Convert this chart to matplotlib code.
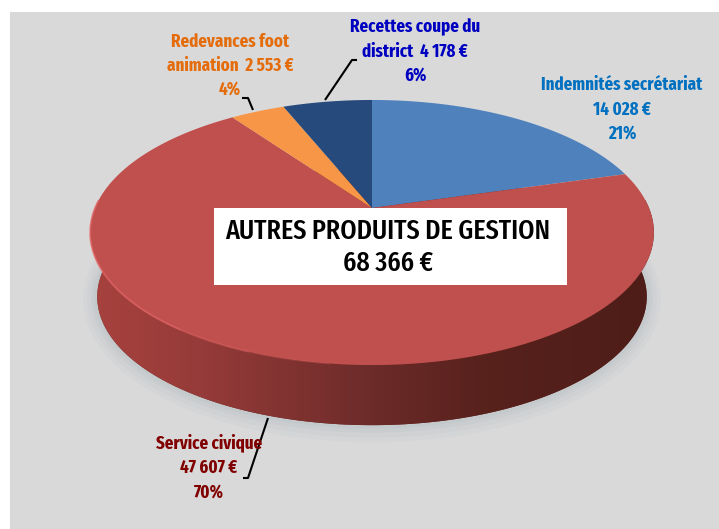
import numpy as np
import matplotlib
matplotlib.use('Agg')
import matplotlib.pyplot as plt
from matplotlib.colors import LinearSegmentedColormap
from matplotlib.patches import Polygon, Rectangle

plt.rcParams['font.family'] = ['Fira Sans Extra Condensed', 'Liberation Sans', 'DejaVu Sans']

# clockwise from 12 o'clock
categories = ['Indemnités secrétariat', 'Service civique', 'Redevances foot animation', 'Recettes coupe du district']
values = [14028, 47607, 2553, 4178]
colors = ['#4F81BD', '#C0504D', '#F79646', '#264A7C']
total = 68366

W, H = 719, 529
fig = plt.figure(figsize=(W / 100, H / 100), dpi=100, facecolor='white')
ax = fig.add_axes([0, 0, 1, 1])
ax.set_xlim(0, W)
ax.set_ylim(H, 0)
ax.axis('off')

ax.add_patch(Rectangle((10, 12), W - 10, H - 12, fc='#D9D9D9', ec='none', zorder=0))

# perspective of the disc: the slices meet above the centre of the outline
cx, cy = 372, 208
k = 0.185


def project(theta, rx=277, ry=128, dy=0):
    u, v = np.cos(theta), np.sin(theta)
    w = 1 + k * v
    return cx + rx * u / w, cy + dy - ry * v / w


full = np.linspace(0, 2 * np.pi, 400)
bottom = dict(rx=270, ry=124, dy=65)

# soft shadow
for grow, a in [(14, 0.05), (10, 0.06), (6, 0.07), (3, 0.08)]:
    sx, sy = project(full, rx=270 + grow, ry=124 + grow, dy=65)
    ax.fill(sx, sy, color='#8A9AA5', alpha=a, lw=0, zorder=1)

# side of the disc: outline of bottom and top faces, filled with a left-right gradient
bx, by = project(full, **bottom)
tx, ty = project(full)
ax.fill(bx, by, color='#6C2B29', lw=0, zorder=2)
side_cmap = LinearSegmentedColormap.from_list('side', [(0, '#A8423E'), (0.2, '#953B39'), (0.37, '#7E3230'), (0.5, '#6C2B29'), (0.7, '#57211C'), (1, '#4E1D18')])
front = np.linspace(np.pi - 0.2, 2 * np.pi + 0.2, 200)
fx, fy = project(front)
gx, gy = project(front, **bottom)
side_poly = Polygon(np.r_[np.c_[fx, fy], np.c_[gx, gy][::-1]], closed=True, fc='none', ec='none', transform=ax.transData)
ax.add_patch(side_poly)
grad = np.linspace(0, 1, 256).reshape(1, -1)
im = ax.imshow(grad, cmap=side_cmap, extent=(88, 658, 440, 200), aspect='auto', zorder=3)
im.set_clip_path(side_poly)
ax.set_xlim(0, W)
ax.set_ylim(H, 0)

# top face, slices from the values
edges = np.pi / 2 - 2 * np.pi * np.r_[0, np.cumsum(values)] / np.sum(values)
for i in range(len(values)):
    t = np.linspace(edges[i], edges[i + 1], 200)
    x, y = project(t)
    ax.fill(np.r_[cx, x], np.r_[cy, y], color=colors[i], lw=0, zorder=4)

# light rim on the front left of the top face, fading out towards the middle
for a0, a1, alpha in [(0.98, 1.30, 0.7), (1.30, 1.38, 0.45), (1.38, 1.46, 0.2)]:
    rim = np.linspace(np.pi * a0, np.pi * a1, 60)
    rx_, ry_ = project(rim)
    ax.plot(rx_, ry_, color='#E8686A', lw=1.3, alpha=alpha, solid_capstyle='butt', zorder=5)

# title box
ax.add_patch(Rectangle((214, 208), 353, 77, fc='white', ec='none', zorder=6))
ax.text(388, 231, 'AUTRES PRODUITS DE GESTION', fontsize=20.3, fontweight='medium', ha='center', va='center', color='black', zorder=7)
ax.text(388, 263, f'{total:,} €'.replace(',', ' '), fontsize=20.3, fontweight='medium', ha='center', va='center', color='black', zorder=7)

# leader lines
leader = dict(color='black', lw=1.5, solid_capstyle='butt', zorder=8)
ax.plot([357, 352, 325], [60, 60, 100], **leader)
ax.plot([242, 248, 253], [98, 98, 110], **leader)
ax.plot([243, 248, 268], [478, 478, 418], **leader)

# labels
lab = dict(fontsize=13.2, fontweight='bold', ha='center', va='center', zorder=9)


def label(x, ys, lines, color):
    for y, s in zip(ys, lines):
        ax.text(x, y, s, color=color, **lab)


label(415, [27, 52, 75], ['Recettes coupe du', 'district  4 178 €', '6%'], '#0000C0')
label(230, [42, 66, 89], ['Redevances foot', 'animation  2 553 €', '4%'], '#E46C0A')
label(622, [85, 110, 133], ['Indemnités secrétariat', '14 028 €', '21%'], '#0070C0')
label(209, [443, 468, 492], ['Service civique', '47 607 €', '70%'], '#800000')

fig.savefig('out.png', dpi=100)
